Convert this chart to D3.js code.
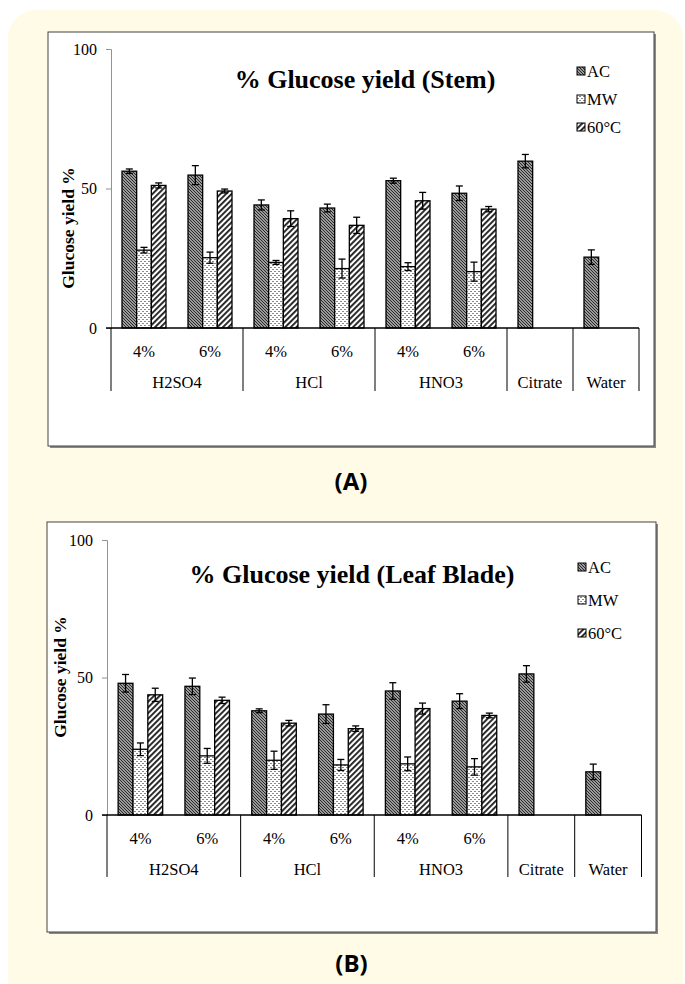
<!DOCTYPE html>
<html>
<head>
<meta charset="utf-8">
<script src="https://cdn.jsdelivr.net/npm/d3@7"></script>
<style>
  html, body { margin: 0; padding: 0; background: #fff; }
  svg { display: block; }
</style>
</head>
<body>
<script>
const W = 685, H = 984;

// categories
const groups = ['H2SO4', 'HCl', 'HNO3', 'Citrate', 'Water'];
const groupSpan = [2, 2, 2, 1, 1];
const concLabels = ['4%', '6%', '4%', '6%', '4%', '6%', '', ''];
const series = ['AC', 'MW', '60°C'];
const yTicks = [0, 50, 100];

// (A) stem
const stemAC = [56.2, 54.8, 44.1, 43.0, 52.8, 48.3, 59.8, 25.4];
const stemMW = [27.9, 25.2, 23.5, 21.3, 22.0, 20.2, null, null];
const stem60 = [51.1, 49.1, 39.2, 36.8, 45.6, 42.6, null, null];
const stemACerr = [0.8, 3.4, 1.8, 1.4, 0.9, 2.6, 2.4, 2.6];
const stemMWerr = [1.0, 2.0, 0.7, 3.4, 1.4, 3.4, null, null];
const stem60err = [0.9, 0.7, 2.8, 2.9, 3.0, 0.95, null, null];

// (B) leaf blade
const leafAC = [47.9, 46.8, 37.9, 36.7, 45.1, 41.4, 51.3, 15.7];
const leafMW = [23.9, 21.5, 19.9, 18.2, 18.6, 17.5, null, null];
const leaf60 = [43.7, 41.7, 33.4, 31.4, 38.7, 36.2, null, null];
const leafACerr = [3.2, 3.0, 0.7, 3.4, 3.0, 2.7, 3.0, 2.8];
const leafMWerr = [2.3, 2.7, 3.3, 2.0, 2.5, 3.0, null, null];
const leaf60err = [2.4, 1.15, 1.0, 1.0, 2.0, 0.85, null, null];

const serif = '"Liberation Serif", "Times New Roman", serif';

const svg = d3.select('body').append('svg')
  .attr('width', W).attr('height', H);

// patterns
const defs = svg.append('defs');
const pAC = defs.append('pattern').attr('id', 'pAC')
  .attr('patternUnits', 'userSpaceOnUse').attr('width', 3).attr('height', 3);
pAC.append('rect').attr('width', 3).attr('height', 3).attr('fill', '#9a9a9a');
[[0, 0], [1, 1], [2, 2]].forEach(([x, y]) =>
  pAC.append('rect').attr('x', x).attr('y', y).attr('width', 1).attr('height', 1).attr('fill', '#2a2a2a'));

const pMW = defs.append('pattern').attr('id', 'pMW')
  .attr('patternUnits', 'userSpaceOnUse').attr('width', 4).attr('height', 4);
pMW.append('rect').attr('width', 4).attr('height', 4).attr('fill', '#fff');
pMW.append('rect').attr('x', 0).attr('y', 1).attr('width', 2).attr('height', 1).attr('fill', '#8a8a8a');
pMW.append('rect').attr('x', 2).attr('y', 3).attr('width', 2).attr('height', 1).attr('fill', '#8a8a8a');

const p60 = defs.append('pattern').attr('id', 'p60')
  .attr('patternUnits', 'userSpaceOnUse').attr('width', 4).attr('height', 4)
  .attr('patternTransform', 'rotate(45)');
p60.append('rect').attr('width', 4).attr('height', 4).attr('fill', '#fff');
p60.append('rect').attr('width', 1.9).attr('height', 4).attr('fill', '#222');

const fills = ['url(#pAC)', 'url(#pMW)', 'url(#p60)'];

// cream panel
svg.append('rect')
  .attr('x', 8).attr('y', 10).attr('width', 675).attr('height', 1010)
  .attr('rx', 28).attr('fill', '#fffbe7');

function drawChart(cfg) {
  const g = svg.append('g');

  // frame with shadow
  g.append('rect')
    .attr('x', cfg.box[0] + 2).attr('y', cfg.box[1] + 2)
    .attr('width', cfg.box[2] - cfg.box[0]).attr('height', cfg.box[3] - cfg.box[1])
    .attr('fill', '#8a8a8a');
  g.append('rect')
    .attr('x', cfg.box[0]).attr('y', cfg.box[1])
    .attr('width', cfg.box[2] - cfg.box[0]).attr('height', cfg.box[3] - cfg.box[1])
    .attr('fill', '#fff').attr('stroke', '#444').attr('stroke-width', 1);

  const x = d3.scaleBand().domain(d3.range(concLabels.length))
    .range([cfg.x0, cfg.x1]).paddingInner(0).paddingOuter(0);
  const xs = d3.scaleBand().domain(series)
    .range([0, x.bandwidth()]).paddingInner(0).paddingOuter(0.75);
  const y = d3.scaleLinear().domain([0, 100]).range([cfg.y0, cfg.y100]);

  // y axis
  const ya = g.append('g')
    .attr('transform', `translate(${cfg.x0},0)`)
    .call(d3.axisLeft(y).tickValues(yTicks).tickSize(5).tickPadding(9));
  ya.attr('font-family', serif).attr('font-size', 16);
  ya.select('.domain').attr('stroke', '#8e968e');
  ya.selectAll('.tick line').attr('stroke', '#8e968e');
  ya.selectAll('.tick text').attr('fill', '#000');

  g.append('text')
    .attr('transform', `translate(${cfg.ylabX},${cfg.ylabY}) rotate(-90)`)
    .attr('text-anchor', 'middle')
    .attr('font-family', serif).attr('font-weight', 'bold').attr('font-size', 17.5)
    .text('Glucose yield %');

  // bars
  cfg.values.forEach((vals, si) => {
    const errs = cfg.errors[si];
    const bx = (i) => x(i) + xs(series[si]);
    const data = vals.map((v, i) => ({ i, v, e: errs[i] })).filter(d => d.v != null);
    g.append('g').selectAll('rect').data(data).join('rect')
      .attr('x', d => bx(d.i)).attr('y', d => y(d.v))
      .attr('width', xs.bandwidth()).attr('height', d => y(0) - y(d.v))
      .attr('fill', fills[si]).attr('stroke', '#000').attr('stroke-width', 1.3);
    const eb = g.append('g').attr('stroke', '#000').attr('stroke-width', 1.3);
    data.forEach(d => {
      const cx = bx(d.i) + xs.bandwidth() / 2;
      eb.append('line').attr('x1', cx).attr('x2', cx)
        .attr('y1', y(d.v - d.e)).attr('y2', y(d.v + d.e));
      [d.v - d.e, d.v + d.e].forEach(t =>
        eb.append('line').attr('x1', cx - 3.5).attr('x2', cx + 3.5)
          .attr('y1', y(t)).attr('y2', y(t)));
    });
  });

  // category table
  const tbl = g.append('g').attr('stroke', '#000').attr('stroke-width', 1);
  tbl.append('line').attr('x1', cfg.x0 - 5).attr('x2', cfg.x1)
    .attr('y1', y(0)).attr('y2', y(0)).attr('stroke-width', 1.3);
  let start = 0;
  const bounds = [0];
  groupSpan.forEach(s => { start += s; bounds.push(start); });
  bounds.forEach(b => {
    const bxp = b < concLabels.length ? x(b) : cfg.x1;
    tbl.append('line').attr('x1', bxp).attr('x2', bxp)
      .attr('y1', y(0)).attr('y2', y(0) + cfg.tblH);
  });

  g.append('g').selectAll('text').data(concLabels).join('text')
    .attr('x', (d, i) => x(i) + x.bandwidth() / 2)
    .attr('y', y(0) + 29)
    .attr('text-anchor', 'middle')
    .attr('font-family', serif).attr('font-size', 16.5)
    .text(d => d);

  g.append('g').selectAll('text').data(groups).join('text')
    .attr('x', (d, i) => {
      const a = x(bounds[i]);
      const b = bounds[i + 1] < concLabels.length ? x(bounds[i + 1]) : cfg.x1;
      return (a + b) / 2;
    })
    .attr('y', y(0) + 60)
    .attr('text-anchor', 'middle')
    .attr('font-family', serif).attr('font-size', 16.5)
    .text(d => d);

  // title
  g.append('text')
    .attr('x', cfg.titleX).attr('y', cfg.titleY)
    .attr('text-anchor', 'middle')
    .attr('font-family', serif).attr('font-weight', 'bold').attr('font-size', 26)
    .text(cfg.title);

  // legend
  const lg = g.append('g').attr('transform', `translate(${cfg.legX},${cfg.legY})`);
  series.forEach((s, i) => {
    const row = lg.append('g').attr('transform', `translate(0,${i * cfg.legStep})`);
    row.append('rect').attr('x', 0).attr('y', -10).attr('width', 8).attr('height', 8)
      .attr('fill', fills[i]).attr('stroke', '#000').attr('stroke-width', 1);
    row.append('text').attr('x', 10).attr('y', 0)
      .attr('font-family', serif).attr('font-size', 16.5)
      .text(s);
  });

  // panel label
  svg.append('text')
    .attr('x', (cfg.box[0] + cfg.box[2]) / 2).attr('y', cfg.capY)
    .attr('text-anchor', 'middle')
    .attr('font-family', '"Open Sans", "DejaVu Sans", sans-serif')
    .attr('font-weight', 'bold').attr('font-size', 24)
    .text(cfg.caption);
}

drawChart({
  box: [48, 32, 654, 446],
  x0: 111, x1: 639, y0: 328, y100: 49,
  tblH: 63,
  ylabX: 74, ylabY: 228,
  title: '% Glucose yield (Stem)', titleX: 365, titleY: 88,
  legX: 577, legY: 77, legStep: 28,
  values: [stemAC, stemMW, stem60],
  errors: [stemACerr, stemMWerr, stem60err],
  caption: '(A)', capY: 490
});

drawChart({
  box: [47, 522, 656, 932],
  x0: 107, x1: 641.5, y0: 815, y100: 540,
  tblH: 62,
  ylabX: 66, ylabY: 677,
  title: '% Glucose yield (Leaf Blade)', titleX: 352, titleY: 583,
  legX: 578, legY: 573, legStep: 33,
  values: [leafAC, leafMW, leaf60],
  errors: [leafACerr, leafMWerr, leaf60err],
  caption: '(B)', capY: 972
});
</script>
</body>
</html>
